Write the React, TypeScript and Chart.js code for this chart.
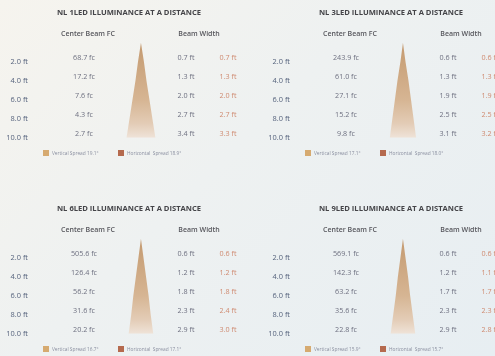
import React, { useEffect, useRef } from "react";
import { Chart, registerables } from "chart.js";

Chart.register(...registerables);

const DISTANCES = [2, 4, 6, 8, 10];

const TITLE_1LED = "NL 1LED ILLUMINANCE AT A DISTANCE";
const TITLE_3LED = "NL 3LED ILLUMINANCE AT A DISTANCE";
const TITLE_6LED = "NL 6LED ILLUMINANCE AT A DISTANCE";
const TITLE_9LED = "NL 9LED ILLUMINANCE AT A DISTANCE";

const FC_1LED = [68.7, 17.2, 7.6, 4.3, 2.7];
const FC_3LED = [243.9, 61.0, 27.1, 15.2, 9.8];
const FC_6LED = [505.6, 126.4, 56.2, 31.6, 20.2];
const FC_9LED = [569.1, 142.3, 63.2, 35.6, 22.8];

const BWV_1LED = [0.7, 1.3, 2.0, 2.7, 3.4];
const BWH_1LED = [0.7, 1.3, 2.0, 2.7, 3.3];
const BWV_3LED = [0.6, 1.3, 1.9, 2.5, 3.1];
const BWH_3LED = [0.6, 1.3, 1.9, 2.5, 3.2];
const BWV_6LED = [0.6, 1.2, 1.8, 2.3, 2.9];
const BWH_6LED = [0.6, 1.2, 1.8, 2.4, 3.0];
const BWV_9LED = [0.6, 1.2, 1.7, 2.3, 2.9];
const BWH_9LED = [0.6, 1.1, 1.7, 2.3, 2.8];

const SPREAD_V = [19.1, 17.1, 16.7, 15.9];
const SPREAD_H = [18.9, 18.0, 17.1, 15.7];

const FONT = "'Open Sans', 'Noto Sans', sans-serif";
const W = 247;
const H = 178;

type PanelProps = {
  title: string;
  fc: number[];
  bwv: number[];
  bwh: number[];
  sv: number;
  sh: number;
  left: number;
  top: number;
};

function Panel({ title, fc, bwv, bwh, sv, sh, left, top }: PanelProps) {
  const ref = useRef<HTMLCanvasElement | null>(null);
  useEffect(() => {
    if (!ref.current) return;
    const textPlugin = {
      id: "panelText",
      afterDatasetsDraw(chart: any) {
        const c = chart.ctx;
        const ys = chart.scales.y;
        c.save();
        c.textAlign = "center";
        c.textBaseline = "middle";
        c.fillStyle = "#444448";
        c.font = `bold 7.6px ${FONT}`;
        c.fillText(title, 129, 13);
        c.fillStyle = "#56565c";
        c.font = `600 7px ${FONT}`;
        c.fillText("Center Beam FC", 88, 34);
        c.fillText("Beam Width", 199, 34);
        DISTANCES.forEach((d, i) => {
          const y = ys.getPixelForValue(d) - 4;
          c.font = `7.2px ${FONT}`;
          c.fillStyle = "#6e7080";
          c.fillText(`${fc[i].toFixed(1)} fc`, 84, y);
          c.fillText(`${bwv[i].toFixed(1)} ft`, 186, y);
          c.fillStyle = "#cf8a70";
          c.fillText(`${bwh[i].toFixed(1)} ft`, 228, y);
        });
        c.textAlign = "left";
        c.fillStyle = "#d6aa70";
        c.fillRect(43, 150, 6, 6);
        c.fillStyle = "#b56a4e";
        c.fillRect(118, 150, 6, 6);
        c.fillStyle = "#8a8fa0";
        c.font = `4.8px ${FONT}`;
        c.fillText(`Vertical Spread ${sv.toFixed(1)}°`, 52, 153.5);
        c.fillText(`Horizontal  Spread ${sh.toFixed(1)}°`, 127, 153.5);
        c.restore();
      },
    };
    const leftEdge = [{ x: 0, y: 0 }, ...DISTANCES.map((d, i) => ({ x: -bwv[i] / 2, y: d }))];
    const rightEdge = [{ x: 0, y: 0 }, ...DISTANCES.map((d, i) => ({ x: bwv[i] / 2, y: d }))];
    const chart = new Chart(ref.current, {
      type: "line",
      data: {
        datasets: [
          { data: leftEdge, borderWidth: 0, pointRadius: 0, fill: false, borderColor: "rgba(0,0,0,0)" },
          {
            data: rightEdge,
            borderWidth: 0,
            pointRadius: 0,
            borderColor: "rgba(0,0,0,0)",
            fill: "-1",
            backgroundColor: (ctx: any) => {
              const ch = ctx.chart;
              const ys = ch.scales && ch.scales.y;
              if (!ch.chartArea || !ys) return "#d4b08a";
              const y0 = ys.getPixelForValue(0);
              const y1 = ys.getPixelForValue(10);
              if (!isFinite(y0) || !isFinite(y1)) return "#d4b08a";
              const g = ch.ctx.createLinearGradient(0, y0, 0, y1);
              g.addColorStop(0, "#c49a70");
              g.addColorStop(0.6, "#d6b593");
              g.addColorStop(0.85, "#e3ccb6");
              g.addColorStop(1, "#efe3d8");
              return g;
            },
          },
        ],
      },
      options: {
        indexAxis: "y",
        animation: false,
        responsive: false,
        events: [],
        layout: { padding: 0 },
        plugins: { legend: { display: false }, tooltip: { enabled: false } },
        scales: {
          x: { type: "linear", display: false, min: -11.9, max: 12.5 },
          y: {
            type: "linear",
            reverse: true,
            min: -4.5,
            max: 14.24,
            grid: { display: false },
            border: { display: false },
            afterFit: (s: any) => {
              s.width = 40;
              s.paddingTop = 0;
              s.paddingBottom = 0;
            },
            afterBuildTicks: (s: any) => {
              s.ticks = DISTANCES.map((v) => ({ value: v }));
            },
            ticks: {
              padding: 4,
              color: "#55627c",
              font: { family: FONT, size: 7.4 },
              callback: (v: any) => `${Number(v).toFixed(1)} ft`,
            },
          },
        },
      },
      plugins: [textPlugin],
    } as any);
    return () => chart.destroy();
  }, []);
  return (
    <canvas
      ref={ref}
      width={W}
      height={H}
      style={{ position: "absolute", left, top, width: W, height: H, filter: "blur(0.35px)" }}
    />
  );
}

export default function App() {
  return (
    <div
      style={{
        position: "fixed",
        left: 0,
        top: 0,
        width: 495,
        height: 356,
        overflow: "hidden",
        background: "linear-gradient(135deg, #f6f4ee 0%, #eef1f1 45%, #e7eef2 100%)",
      }}
    >
      <Panel title={TITLE_1LED} fc={FC_1LED} bwv={BWV_1LED} bwh={BWH_1LED} sv={SPREAD_V[0]} sh={SPREAD_H[0]} left={0} top={0} />
      <Panel title={TITLE_3LED} fc={FC_3LED} bwv={BWV_3LED} bwh={BWH_3LED} sv={SPREAD_V[1]} sh={SPREAD_H[1]} left={262} top={0} />
      <Panel title={TITLE_6LED} fc={FC_6LED} bwv={BWV_6LED} bwh={BWH_6LED} sv={SPREAD_V[2]} sh={SPREAD_H[2]} left={0} top={196} />
      <Panel title={TITLE_9LED} fc={FC_9LED} bwv={BWV_9LED} bwh={BWH_9LED} sv={SPREAD_V[3]} sh={SPREAD_H[3]} left={262} top={196} />
    </div>
  );
}
